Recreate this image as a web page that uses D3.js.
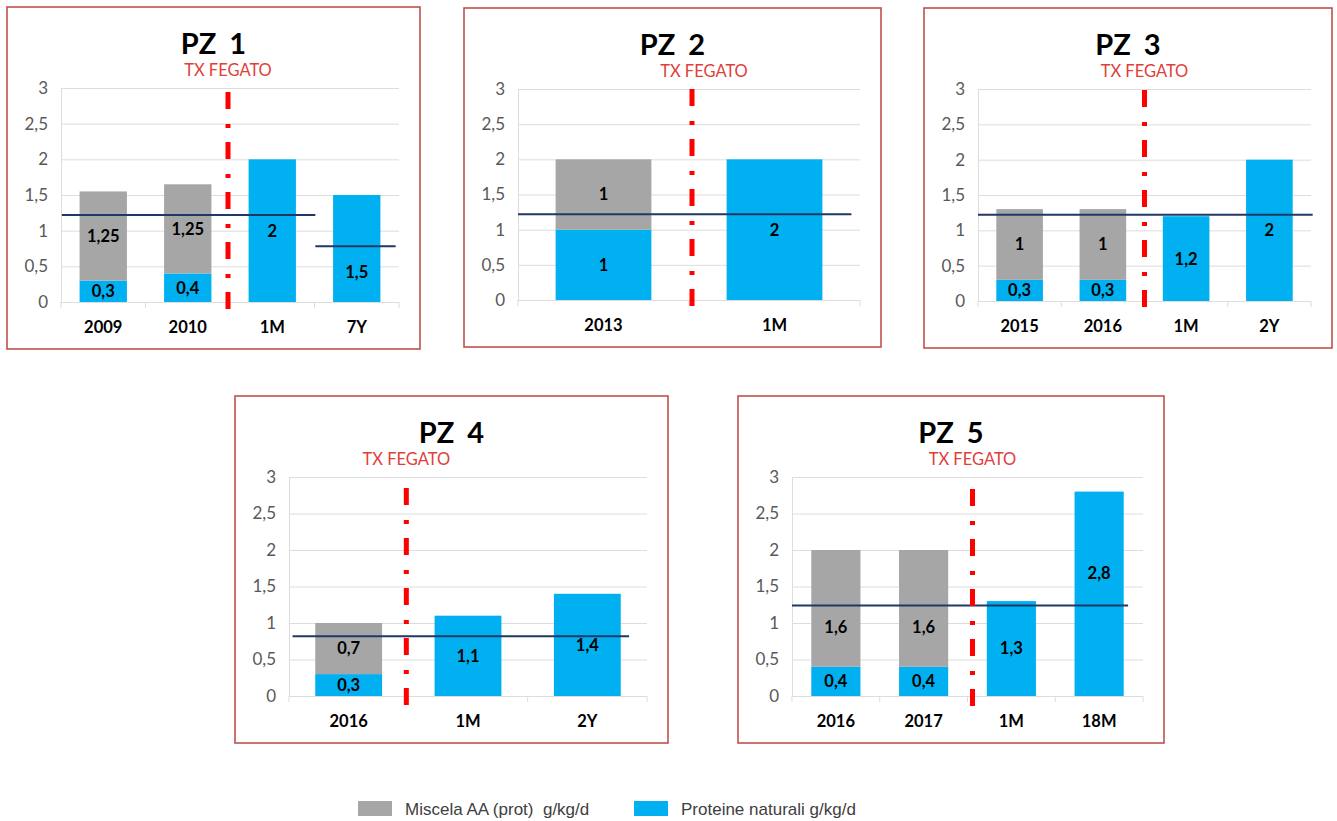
<!DOCTYPE html>
<html>
<head>
<meta charset="utf-8">
<script src="https://cdn.jsdelivr.net/npm/d3@7"></script>
<style>
  html, body { margin: 0; padding: 0; background: #ffffff; }
  svg { display: block; }
</style>
</head>
<body>
<svg id="chart" width="1337" height="821"></svg>
<script>
// ---- data ----
const panelTitles = ["PZ 1", "PZ 2", "PZ 3", "PZ 4", "PZ 5"];
const categories = [
  ["2009", "2010", "1M", "7Y"],
  ["2013", "1M"],
  ["2015", "2016", "1M", "2Y"],
  ["2016", "1M", "2Y"],
  ["2016", "2017", "1M", "18M"]
];
// Proteine naturali g/kg/d (lower segment)
const proteineNaturali = [
  [0.3, 0.4, 2, 1.5],
  [1, 2],
  [0.3, 0.3, 1.2, 2],
  [0.3, 1.1, 1.4],
  [0.4, 0.4, 1.3, 2.8]
];
// Miscela AA (prot) g/kg/d (upper segment)
const miscelaAA = [
  [1.25, 1.25, 0, 0],
  [1, 0],
  [1, 1, 0, 0],
  [0.7, 0, 0],
  [1.6, 1.6, 0, 0]
];
// number of categories before the liver transplant
const preTransplantCount = [2, 1, 2, 1, 2];
// reference levels (value, start and end in category units)
const referenceLines = [
  [{ value: 1.22, from: 0.01, to: 3.01 }, { value: 0.78, from: 3.01, to: 3.96 }],
  [{ value: 1.22, from: 0, to: 1.95 }],
  [{ value: 1.22, from: 0, to: 4.02 }],
  [{ value: 0.82, from: 0.03, to: 2.85 }],
  [{ value: 1.24, from: 0, to: 3.83 }]
];
const yTicks = [0, 0.5, 1, 1.5, 2, 2.5, 3];
const seriesNames = ["Miscela AA (prot)  g/kg/d", "Proteine naturali g/kg/d"];
const markerText = "TX FEGATO";

// ---- layout ----
const boxes = [
  { x: 7,   y: 7,   w: 413, h: 342, divShift: -2, divTop: 4,  labelShift: 0 },
  { x: 464, y: 8,   w: 417, h: 339, divShift: 3,  divTop: 0,  labelShift: 12 },
  { x: 924, y: 8,   w: 408, h: 340, divShift: 0,  divTop: 1,  labelShift: 0 },
  { x: 235, y: 396, w: 433, h: 347, divShift: -2, divTop: 11, labelShift: 0 },
  { x: 738, y: 396, w: 426, h: 347, divShift: 5,  divTop: 12, labelShift: 0 }
];
const margin = { left: 54, right: 21, top: 81, bottom: 47 };
// value labels that were moved away from the middle of their segment
// (panel index, category, series, height in axis units where the label sits)
const movedLabels = [
  { panel: 0, cat: "7Y", series: "prot", at: 0.42 },
  { panel: 4, cat: "2016", series: "mix", at: 0.94 },
  { panel: 4, cat: "2017", series: "mix", at: 0.94 },
  { panel: 4, cat: "18M", series: "prot", at: 1.68 }
];

const COLORS = {
  miscela: "#A6A6A6",
  proteine: "#00B0F0",
  border: "#C0504D",
  grid: "#DDDDDD",
  divider: "#FF0000",
  marker: "#E0403A",
  ref: "#1F3864",
  tick: "#595959",
  text: "#000000"
};
const FONT = "Lato, 'Open Sans', sans-serif";

const fmt = v => String(v).replace(".", ",");

const svg = d3.select("#chart");

boxes.forEach((b, i) => {
  const g = svg.append("g").attr("class", "panel");

  // frame
  g.append("rect")
    .attr("x", b.x).attr("y", b.y).attr("width", b.w).attr("height", b.h)
    .attr("fill", "#ffffff").attr("stroke", COLORS.border).attr("stroke-width", 1.6);

  const x0 = b.x + margin.left, x1 = b.x + b.w - margin.right;
  const yTop = b.y + margin.top, yBot = b.y + b.h - margin.bottom;

  const cats = categories[i];
  const xBand = d3.scaleBand().domain(cats).range([x0, x1]).paddingInner(0.44).paddingOuter(0.22);
  const xUnit = d3.scaleLinear().domain([0, cats.length]).range([x0, x1]);
  const y = d3.scaleLinear().domain([0, 3]).range([yBot, yTop]);

  // title
  g.append("text")
    .attr("x", b.x + b.w / 2).attr("y", b.y + 47)
    .attr("text-anchor", "middle")
    .attr("font-family", FONT).attr("font-weight", 700).attr("font-size", 29)
    .attr("word-spacing", 6)
    .attr("fill", COLORS.text)
    .text(panelTitles[i]);

  // y axis: gridlines + labels
  const yAxis = d3.axisLeft(y).tickValues(yTicks).tickFormat(fmt)
    .tickSize(-(x1 - x0)).tickPadding(13);
  const ya = g.append("g").attr("transform", `translate(${x0},0)`).call(yAxis);
  ya.select(".domain").attr("stroke", COLORS.grid).attr("d", `M0.5,${yTop}V${yBot}`);
  ya.selectAll(".tick line").attr("stroke", COLORS.grid).attr("stroke-width", 1);
  ya.selectAll(".tick text")
    .attr("font-family", FONT).attr("font-size", 17).attr("fill", COLORS.tick);

  // x axis: baseline, boundary ticks, category labels
  const xAxis = d3.axisBottom(xBand).tickSize(0).tickPadding(19);
  const xa = g.append("g").attr("transform", `translate(0,${yBot})`).call(xAxis);
  xa.select(".domain").attr("stroke", COLORS.grid).attr("d", `M${x0},0.5H${x1}`);
  xa.selectAll(".tick text")
    .attr("font-family", FONT).attr("font-weight", 700).attr("font-size", 16.5)
    .attr("fill", COLORS.text);
  g.append("g").selectAll("line")
    .data(d3.range(cats.length + 1))
    .join("line")
    .attr("x1", d => xUnit(d)).attr("x2", d => xUnit(d))
    .attr("y1", yBot).attr("y2", yBot + 6)
    .attr("stroke", COLORS.grid).attr("stroke-width", 1);

  // stacked bars
  const rows = cats.map((c, k) => ({ cat: c, prot: proteineNaturali[i][k], mix: miscelaAA[i][k] }));
  const bars = g.append("g");
  bars.selectAll("rect.prot").data(rows).join("rect")
    .attr("class", "prot")
    .attr("x", d => xBand(d.cat)).attr("width", xBand.bandwidth())
    .attr("y", d => y(d.prot)).attr("height", d => y(0) - y(d.prot))
    .attr("fill", COLORS.proteine);
  bars.selectAll("rect.mix").data(rows.filter(d => d.mix > 0)).join("rect")
    .attr("class", "mix")
    .attr("x", d => xBand(d.cat)).attr("width", xBand.bandwidth())
    .attr("y", d => y(d.prot + d.mix)).attr("height", d => y(d.prot) - y(d.prot + d.mix))
    .attr("fill", COLORS.miscela);

  // reference lines
  g.append("g").selectAll("line").data(referenceLines[i]).join("line")
    .attr("x1", d => xUnit(d.from)).attr("x2", d => xUnit(d.to))
    .attr("y1", d => y(d.value)).attr("y2", d => y(d.value))
    .attr("stroke", COLORS.ref).attr("stroke-width", 2);

  // value labels (centred in their segment unless moved)
  const placeOf = (cat, series, mid) => {
    const m = movedLabels.find(o => o.panel === i && o.cat === cat && o.series === series);
    return m ? m.at : mid;
  };
  const labels = [];
  rows.forEach(d => {
    if (d.prot > 0) labels.push({ cat: d.cat, v: d.prot, at: placeOf(d.cat, "prot", d.prot / 2) });
    if (d.mix > 0) labels.push({ cat: d.cat, v: d.mix, at: placeOf(d.cat, "mix", d.prot + d.mix / 2) });
  });
  g.append("g").selectAll("text").data(labels).join("text")
    .attr("x", d => xBand(d.cat) + xBand.bandwidth() / 2)
    .attr("y", d => y(d.at))
    .attr("dy", "0.36em")
    .attr("text-anchor", "middle")
    .attr("font-family", FONT).attr("font-weight", 700).attr("font-size", 16.5)
    .attr("fill", COLORS.text)
    .text(d => fmt(d.v));

  // transplant divider
  const xDiv = xUnit(preTransplantCount[i]) + b.divShift;
  g.append("line")
    .attr("x1", xDiv).attr("x2", xDiv)
    .attr("y1", yTop + b.divTop).attr("y2", yBot + 10)
    .attr("stroke", COLORS.divider).attr("stroke-width", 5)
    .attr("stroke-dasharray", "17,15,4,14");

  g.append("text")
    .attr("x", xDiv + b.labelShift).attr("y", b.y + 69)
    .attr("text-anchor", "middle")
    .attr("font-family", FONT).attr("font-size", 16.5)
    .attr("fill", COLORS.marker)
    .text(markerText);
});

// legend
const legendItems = [
  { name: seriesNames[0], color: COLORS.miscela, x: 358 },
  { name: seriesNames[1], color: COLORS.proteine, x: 634 }
];
const lg = svg.append("g").selectAll("g").data(legendItems).join("g");
lg.append("rect")
  .attr("x", d => d.x).attr("y", 801).attr("width", 34).attr("height", 15)
  .attr("fill", d => d.color);
lg.append("text")
  .attr("x", d => d.x + 47).attr("y", 815)
  .attr("font-family", "'Liberation Sans', Arial, sans-serif").attr("font-size", 17)
  .attr("fill", "#404040")
  .style("white-space", "pre")
  .text(d => d.name);
</script>
</body>
</html>
